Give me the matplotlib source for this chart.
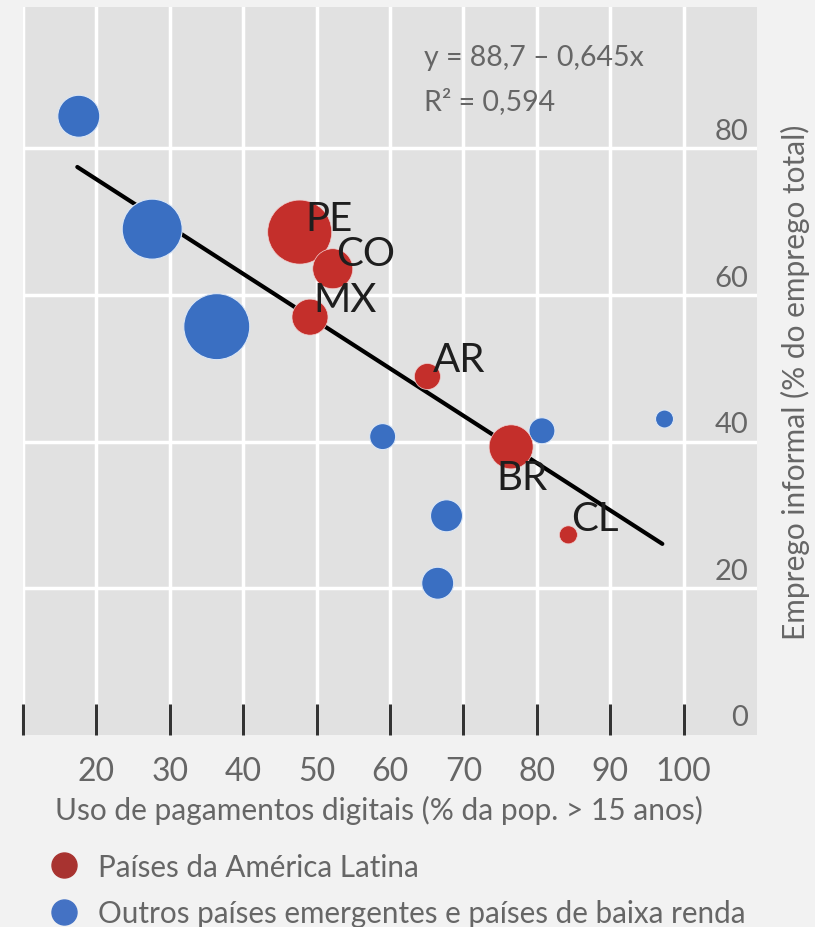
import matplotlib.pyplot as plt
from matplotlib.lines import Line2D

# Emprego informal x uso de pagamentos digitais
paises_al = ['PE', 'CO', 'MX', 'AR', 'BR', 'CL']
al_pagamentos = [47.7, 52.2, 49.1, 65.1, 76.5, 84.3]
al_informal = [68.6, 63.6, 57.0, 48.9, 39.3, 27.3]
al_raio = [32, 20, 18, 13, 22, 9]

outros_pagamentos = [17.6, 27.6, 36.4, 59.0, 80.7, 97.4, 67.7, 66.5]
outros_informal = [84.4, 69.0, 55.7, 40.7, 41.5, 43.1, 29.9, 20.7]
outros_raio = [21, 30, 33, 13, 13, 9, 16, 16]

# reta de regressao: y = 88,7 - 0,645x
intercepto = 88.7
inclinacao = -0.645
x_reta = [17.4, 97.1]

x_ticks = [20, 30, 40, 50, 60, 70, 80, 90, 100]
y_ticks = [0, 20, 40, 60, 80]

FONTE = ['Lato', 'DejaVu Sans']
CINZA = '#666666'
VERMELHO = '#c42f2b'
AZUL = '#3a6fc2'

plt.rcParams['font.family'] = FONTE


def area(raios):
    """ raio em pixels -> area do marcador em pt^2 (dpi 100) """
    return [(2 * r * 0.72) ** 2 for r in raios]


fig = plt.figure(figsize=(8.15, 9.28), dpi=100)
fig.patch.set_facecolor('#f2f2f2')
ax = fig.add_axes([23 / 815, 1 - 736 / 928, 734 / 815, 728 / 928])
ax.set_facecolor('#e1e1e1')

ax.set_xlim(10, 110)
ax.set_ylim(0, 99.3)

# grade branca
ax.set_xticks([10] + x_ticks)
ax.set_xticklabels([''] + [str(t) for t in x_ticks])
ax.set_yticks(y_ticks[1:])
ax.grid(color='white', linewidth=2.5)
ax.set_axisbelow(True)
for s in ax.spines.values():
    s.set_visible(False)

ax.tick_params(axis='x', direction='in', length=22, width=2.2, color='#333333',
               pad=15, labelsize=23, labelcolor=CINZA)
ax.tick_params(axis='y', length=0, labelleft=False)
ax.xaxis.get_major_ticks()[0].tick1line.set_color('#8a8a8a')

# rotulos do eixo y dentro do grafico
for v in y_ticks:
    ax.text(108.8, v + 2.4, str(v), ha='right', va='center', fontsize=21, color=CINZA)

# reta
y_reta = [intercepto + inclinacao * x for x in x_reta]
ax.plot(x_reta, y_reta, color='black', linewidth=3, zorder=2, solid_capstyle='round')

ax.scatter(outros_pagamentos, outros_informal, s=area(outros_raio), color=AZUL,
           edgecolors='#dbe6f5', linewidths=0.8, zorder=3)
ax.scatter(al_pagamentos, al_informal, s=area(al_raio), color=VERMELHO,
           edgecolors='#f0d0d0', linewidths=0.5, zorder=3)

# siglas dos paises
deslocamentos = [(21, 10), (24, 11), (25, 13), (23, 12), (8, -22), (19, 12)]
for nome, x, y, d in zip(paises_al, al_pagamentos, al_informal, deslocamentos):
    ax.annotate(nome, (x, y), xytext=d, textcoords='offset points', ha='center',
                va='center', fontsize=29, color='#1e1e1e', zorder=4)

ax.text(64.7, 92.5, 'y = 88,7 – 0,645x', fontsize=20.5, color=CINZA, va='center')
ax.text(64.7, 86.6, 'R² = 0,594', fontsize=20.5, color=CINZA, va='center')

fig.text(379 / 815, 1 - 810 / 928, 'Uso de pagamentos digitais (% da pop. > 15 anos)',
         ha='center', va='center', fontsize=21.5, color=CINZA)
fig.text(795 / 815, 1 - 382 / 928, 'Emprego informal (% do emprego total)',
         ha='center', va='center', rotation=90, fontsize=21.5, color=CINZA)

handles = [Line2D([], [], marker='o', ls='', markersize=18, color='#a83330'),
           Line2D([], [], marker='o', ls='', markersize=18, color='#4472c4')]
fig.legend(handles, ['Países da América Latina',
                     'Outros países emergentes e países de baixa renda'],
           loc='center left', bbox_to_anchor=(49 / 815, 1 - 891 / 928), frameon=False,
           fontsize=21.3, labelcolor=CINZA, handlelength=1.0, handletextpad=0.65,
           labelspacing=0.62, borderaxespad=0, borderpad=0)

fig.savefig('out.png', dpi=100, facecolor=fig.get_facecolor())
